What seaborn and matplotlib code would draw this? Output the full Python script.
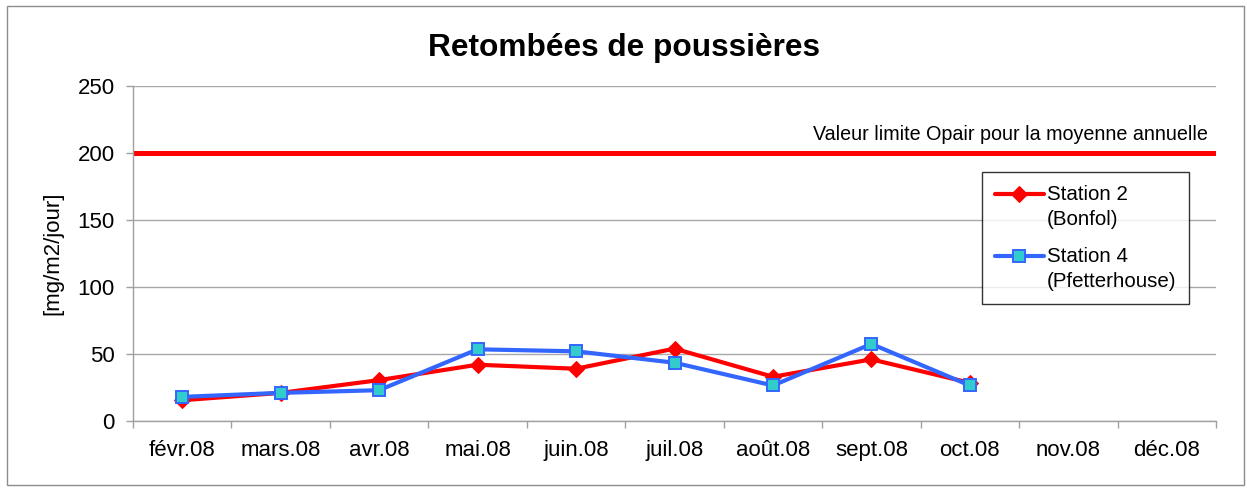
import matplotlib
matplotlib.use("Agg")
import matplotlib.pyplot as plt
import seaborn as sns
import pandas as pd
import numpy as np
from matplotlib.patches import Rectangle
from matplotlib.legend_handler import HandlerLine2D

months = ["févr.08", "mars.08", "avr.08", "mai.08", "juin.08", "juil.08",
          "août.08", "sept.08", "oct.08", "nov.08", "déc.08"]
station2 = [15.5, 21, 30.5, 42, 39, 54, 33, 46, 28.5, None, None]
station4 = [18, 21, 23, 53.5, 52, 43.5, 26.5, 57.5, 26.5, None, None]
limit_value = 200
limit_label = "Valeur limite Opair pour la moyenne annuelle"
series_names = ["Station 2\n(Bonfol)", "Station 4\n(Pfetterhouse)"]

sns.set_theme(style="white")
plt.rcParams['font.family'] = ['Liberation Sans', 'DejaVu Sans']
plt.rcParams['text.color'] = 'black'
plt.rcParams['axes.labelcolor'] = 'black'
plt.rcParams['xtick.labelcolor'] = 'black'
plt.rcParams['ytick.labelcolor'] = 'black'

df = pd.DataFrame({
    "x": list(range(len(months))) * 2,
    "val": station2 + station4,
    "serie": [series_names[0]] * len(months) + [series_names[1]] * len(months),
}).dropna()

W, H = 1247, 488
fig = plt.figure(figsize=(W / 100, H / 100), dpi=100)
fig.patches.append(Rectangle((7 / W, 1 - 485 / H), (1244 - 7) / W, (485 - 6) / H,
                             transform=fig.transFigure, fill=False,
                             edgecolor="#8C8C8C", linewidth=1.0))
L, R, T, B = 133, 1216, 86, 421
ax = fig.add_axes([L / W, 1 - B / H, (R - L) / W, (B - T) / H])

ax.axhline(limit_value, color="#FF0000", lw=3.6, zorder=2)
ax.text(10.42, limit_value + 7, limit_label, ha="right", va="bottom", fontsize=14.2)

sns.lineplot(data=df[df.serie == series_names[0]], x="x", y="val", ax=ax,
             color="#FF0000", lw=3.0, marker="D", markersize=8.5,
             markeredgecolor="#FF0000", markerfacecolor="#FF0000",
             label=series_names[0], zorder=4)
sns.lineplot(data=df[df.serie == series_names[1]], x="x", y="val", ax=ax,
             color="#3366FF", lw=3.0, marker="s", markersize=8,
             markeredgecolor="#3366FF", markerfacecolor="#33CCCC", markeredgewidth=1.4,
             label=series_names[1], zorder=5)

ax.set_xlim(-0.5, len(months) - 0.5)
ax.set_ylim(0, 250)
ax.set_yticks(range(0, 251, 50))
ax.set_xticks(range(len(months)))
ax.set_xticklabels(months, fontsize=16)
ax.set_xticks(np.arange(-0.5, len(months), 1), minor=True)
ax.tick_params(axis="x", which="major", length=0, pad=14)
ax.tick_params(axis="x", which="minor", length=5, width=1, color="#A0A0A0",
               direction="out", bottom=True)
ax.tick_params(axis="y", labelsize=16, length=5, width=1, color="#A0A0A0",
               direction="out", left=True, pad=8)
ax.set_xlabel("")
ax.set_ylabel("[mg/m2/jour]", fontsize=16)
ax.yaxis.set_label_coords((63 - L) / (R - L), 0.5)

ax.yaxis.grid(True, color="#A8A8A8", lw=1)
ax.set_axisbelow(True)
for s in ["top", "right"]:
    ax.spines[s].set_visible(False)
ax.spines["left"].set_color("#A0A0A0")
ax.spines["bottom"].set_color("#A0A0A0")
ax.spines["left"].set_linewidth(1)
ax.spines["bottom"].set_linewidth(1)

fig.text(0.5, 1 - 48 / H, "Retombées de poussières", ha="center", va="center",
         fontsize=22.8, fontweight="bold")


class UpHandler(HandlerLine2D):
    def create_artists(self, legend, orig_handle, xdescent, ydescent, width,
                       height, fontsize, trans):
        return super().create_artists(legend, orig_handle, xdescent,
                                       ydescent - 1.3 * fontsize, width, height,
                                       fontsize, trans)


handles, labels = ax.get_legend_handles_labels()
leg = ax.legend(handles, labels, loc="upper left",
                bbox_to_anchor=((982 - L) / (R - L), (B - 172) / (B - T)),
                frameon=True, fancybox=False, fontsize=14.8, handlelength=2.4,
                handletextpad=0.15, labelspacing=0.9, borderpad=0.62,
                borderaxespad=0, handler_map={type(handles[0]): UpHandler()})
for t in leg.get_texts():
    t.set_linespacing(1.4)
leg.get_frame().set_edgecolor("black")
leg.get_frame().set_linewidth(1)

fig.savefig("out.png", dpi=100)
